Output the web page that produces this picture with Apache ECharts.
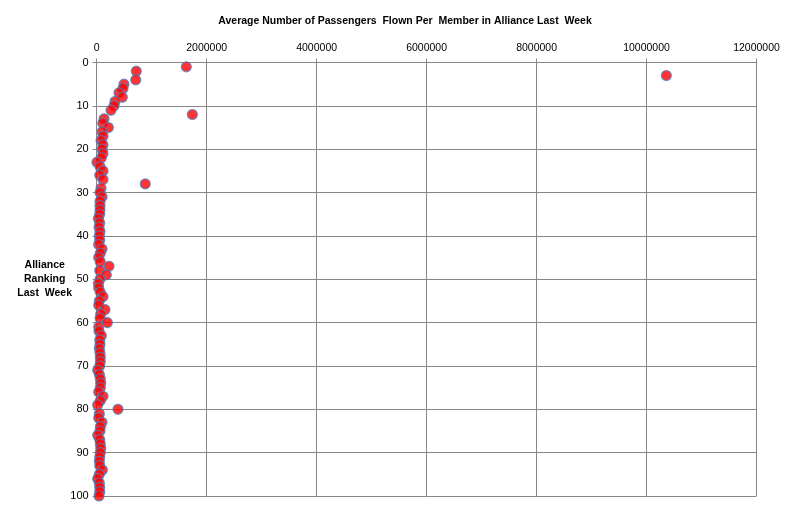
<!DOCTYPE html>
<html>
<head>
<meta charset="utf-8">
<script src="https://cdn.jsdelivr.net/npm/echarts@6/dist/echarts.min.js"></script>
<style>
  html, body { margin: 0; padding: 0; background: #fff; }
  #chart { width: 792px; height: 512px; }
</style>
</head>
<body>
<div id="chart"></div>
<script>
// 数据：排名 1..100 对应的平均乘客数
const ranks = Array.from({ length: 100 }, (_, i) => i + 1);
const passengers = [
  1630000, 720000, 10360000, 710000, 496000, 478000, 405000, 466000, 333000, 315000,
  260000, 1740000, 133000, 109000, 212000, 97000, 115000, 79000, 115000, 97000,
  115000, 85000, 5000, 60000, 115000, 55000, 115000, 883000, 79000, 60000,
  97000, 60000, 60000, 60000, 55000, 31000, 55000, 42000, 60000, 48000,
  55000, 36000, 97000, 66000, 36000, 66000, 224000, 55000, 175000, 60000,
  31000, 36000, 66000, 115000, 48000, 36000, 151000, 73000, 60000, 194000,
  36000, 42000, 85000, 55000, 60000, 48000, 60000, 66000, 66000, 55000,
  18000, 48000, 66000, 73000, 66000, 36000, 115000, 66000, 18000, 387000,
  48000, 36000, 97000, 66000, 60000, 18000, 55000, 66000, 73000, 66000,
  55000, 48000, 55000, 103000, 48000, 18000, 48000, 55000, 55000, 42000
];
const xTicks = [0, 2000000, 4000000, 6000000, 8000000, 10000000, 12000000];

const chart = echarts.init(document.getElementById('chart'));
const FONT = '"Liberation Sans", Arial, sans-serif';

chart.setOption({
  animation: false,
  title: {
    text: 'Average Number of Passengers  Flown Per  Member in Alliance Last  Week',
    left: 400, top: 11, textAlign: 'center',
    textStyle: { fontFamily: FONT, fontSize: 10.5, fontWeight: 'bold', color: '#000' }
  },
  grid: { left: 96.7, right: 35.5, top: 62.5, bottom: 16 },
  xAxis: {
    type: 'value', position: 'top',
    min: xTicks[0], max: xTicks[xTicks.length - 1], interval: 2000000,
    axisLine: { show: true, lineStyle: { color: '#868686' } },
    axisTick: { show: true, length: 4, lineStyle: { color: '#868686' } },
    axisLabel: { fontFamily: FONT, fontSize: 10.5, color: '#000', margin: 9, formatter: v => String(v) },
    splitLine: { show: true, lineStyle: { color: '#868686', width: 1 } }
  },
  yAxis: {
    type: 'value', inverse: true, min: 0, max: 100, interval: 10,
    name: 'Alliance\nRanking\nLast  Week',
    nameLocation: 'middle', nameGap: 52, nameRotate: 0, nameMoveOverlap: false,
    nameTextStyle: {
      fontFamily: FONT, fontSize: 10.5, fontWeight: 'bold', color: '#000',
      lineHeight: 14, align: 'center', padding: [6, 0, 0, 0]
    },
    axisLine: { show: true, lineStyle: { color: '#868686' } },
    axisTick: { show: true, length: 4, lineStyle: { color: '#868686' } },
    axisLabel: { fontFamily: FONT, fontSize: 11, color: '#000', margin: 8 },
    splitLine: { show: true, lineStyle: { color: '#868686', width: 1 } }
  },
  series: [{
    type: 'scatter',
    data: ranks.map((r, i) => [passengers[i], r]),
    symbol: 'circle', symbolSize: 10,
    itemStyle: { color: '#ff0000', borderColor: '#4f81bd', borderWidth: 1.2 }
  }]
});
</script>
</body>
</html>
